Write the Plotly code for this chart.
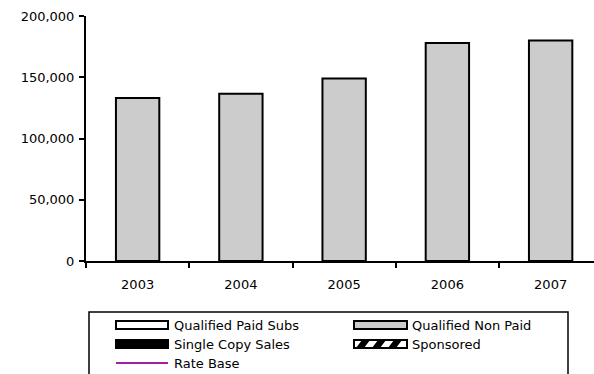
import plotly.graph_objects as go

years = ["2003", "2004", "2005", "2006", "2007"]
qualified_non_paid = [133000, 136500, 149000, 178000, 180000]
legend_names = ["Qualified Paid Subs", "Qualified Non Paid", "Single Copy Sales", "Sponsored", "Rate Base"]
y_ticks = [0, 50000, 100000, 150000, 200000]
y_tick_text = ["0", "50,000", "100,000", "150,000", "200,000"]

W, H = 594, 374
L, R, T, B = 86, 0, 16, 113
pw, ph = W - L - R, H - T - B

def px(x):
    return (x - L) / pw

def py(y):
    return (H - B - y) / ph

FONT = "DejaVu Sans"

fig = go.Figure()
fig.add_trace(go.Bar(
    x=years, y=qualified_non_paid, name=legend_names[1],
    marker=dict(color="#cccccc", line=dict(color="black", width=2)),
    showlegend=False,
))

shapes = []
annotations = []
# legend box
shapes.append(dict(type="rect", xref="paper", yref="paper",
                   x0=px(89), x1=px(568), y0=py(312), y1=py(390),
                   line=dict(color="black", width=1.5), fillcolor="rgba(0,0,0,0)"))

rows = [325, 344, 363]
cols = [(116, 168, 172), (354, 407, 410)]
items = [
    (0, 0, "white"), (0, 1, "#cccccc"),
    (1, 0, "black"), (1, 1, "pattern"),
    (2, 0, "line"),
]
for (r, c, kind), name in zip(items, legend_names):
    x0, x1, tx = cols[c]
    yc = rows[r]
    if kind == "line":
        shapes.append(dict(type="line", xref="paper", yref="paper",
                           x0=px(x0), x1=px(x1), y0=py(yc), y1=py(yc),
                           line=dict(color="#a020a0", width=2)))
    elif kind == "pattern":
        shapes.append(dict(type="rect", xref="paper", yref="paper",
                           x0=px(x0), x1=px(x1), y0=py(yc - 4), y1=py(yc + 4),
                           line=dict(color="black", width=2), fillcolor="white"))
        for sx in [x0 + 2, x0 + 18, x0 + 34]:
            path = "M {} {} L {} {} L {} {} L {} {} Z".format(
                px(sx), py(yc + 4), px(sx + 8), py(yc + 4),
                px(sx + 14), py(yc - 4), px(sx + 6), py(yc - 4))
            shapes.append(dict(type="path", xref="paper", yref="paper", path=path,
                               fillcolor="black", line=dict(width=0)))
    else:
        shapes.append(dict(type="rect", xref="paper", yref="paper",
                           x0=px(x0), x1=px(x1), y0=py(yc - 4), y1=py(yc + 4),
                           line=dict(color="black", width=2), fillcolor=kind))
    annotations.append(dict(xref="paper", yref="paper", x=px(tx), y=py(yc),
                            xanchor="left", yanchor="middle", showarrow=False,
                            text=name, font=dict(family=FONT, size=13, color="black")))

fig.update_layout(
    width=W, height=H,
    margin=dict(l=L, r=R, t=T, b=B, pad=0),
    paper_bgcolor="white", plot_bgcolor="white",
    bargap=0.58,
    showlegend=False,
    font=dict(family=FONT, size=13, color="black"),
    shapes=shapes, annotations=annotations,
    xaxis=dict(
        type="category", range=[-0.5, 4.42],
        showline=True, linecolor="black", linewidth=2,
        ticks="outside", tickson="boundaries", ticklen=5, tickwidth=2, tickcolor="black",
        showgrid=False, zeroline=False, ticklabelstandoff=10,
        tickfont=dict(family=FONT, size=13),
    ),
    yaxis=dict(
        range=[0, 200000], tickvals=y_ticks, ticktext=y_tick_text,
        showline=True, linecolor="black", linewidth=2,
        ticks="outside", ticklen=5, tickwidth=2, tickcolor="black",
        showgrid=False, zeroline=False, ticklabelstandoff=2,
        tickfont=dict(family=FONT, size=13),
    ),
)

fig.write_html("out.html")
